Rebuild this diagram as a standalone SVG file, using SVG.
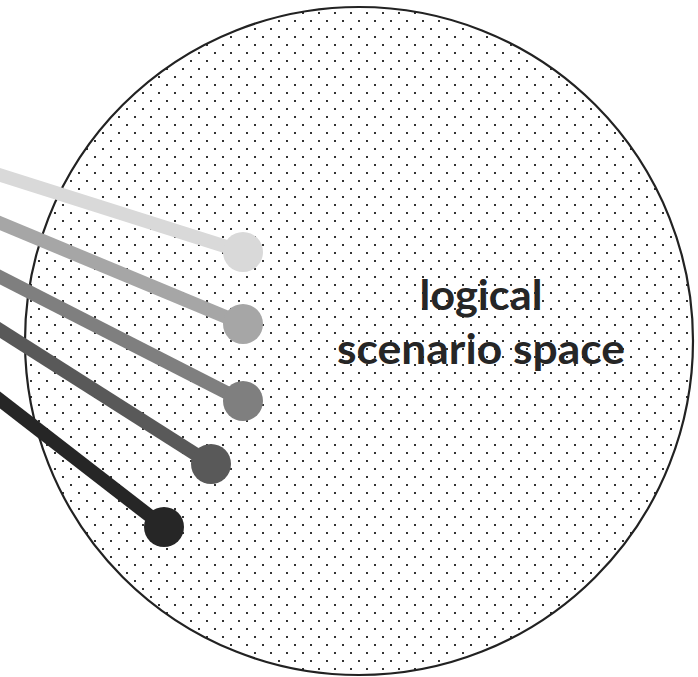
<svg xmlns="http://www.w3.org/2000/svg" width="698" height="677" viewBox="0 0 698 677">
  <defs>
    <pattern id="dots" patternUnits="userSpaceOnUse" x="0" y="0" width="16" height="16">
      <rect x="14" y="12" width="2" height="2" fill="#333"/>
      <rect x="6" y="4" width="2" height="2" fill="#333"/>
    </pattern>
    <style>
      .space { fill: url(#dots); stroke: #222; stroke-width: 2.2; }
      .label { font-family: Lato, "Open Sans", "Liberation Sans", sans-serif; font-weight: bold; font-size: 42px; fill: #262626; text-anchor: middle; }
      .conn { fill: none; stroke-width: 13.5; stroke-linecap: butt; }
    </style>
  </defs>
  <rect width="698" height="677" fill="#fff"/>
  <g id="scenario-space">
    <circle class="space" cx="359" cy="341" r="334"/>
    <text class="label" x="481" y="310" textLength="123" lengthAdjust="spacingAndGlyphs">logical</text>
    <text class="label" x="481" y="364" textLength="288" lengthAdjust="spacingAndGlyphs">scenario space</text>
  </g>
  <g id="connectors">
    <line class="conn" stroke="#d9d9d9" x1="-20" y1="168.7" x2="243" y2="252"/>
    <line class="conn" stroke="#a6a6a6" x1="-20" y1="214.7" x2="243" y2="324"/>
    <line class="conn" stroke="#7f7f7f" x1="-20" y1="266.8" x2="243" y2="401"/>
    <line class="conn" stroke="#595959" x1="-20" y1="317.3" x2="211" y2="464"/>
    <line class="conn" stroke="#262626" x1="-20" y1="384.5" x2="164" y2="527"/>
  </g>
  <g id="point-1"><circle cx="243" cy="252" r="20" fill="#d9d9d9"/></g>
  <g id="point-2"><circle cx="243" cy="324" r="20" fill="#a6a6a6"/></g>
  <g id="point-3"><circle cx="243" cy="401" r="20" fill="#7f7f7f"/></g>
  <g id="point-4"><circle cx="211" cy="464" r="20" fill="#595959"/></g>
  <g id="point-5"><circle cx="164" cy="527" r="20" fill="#262626"/></g>
</svg>
